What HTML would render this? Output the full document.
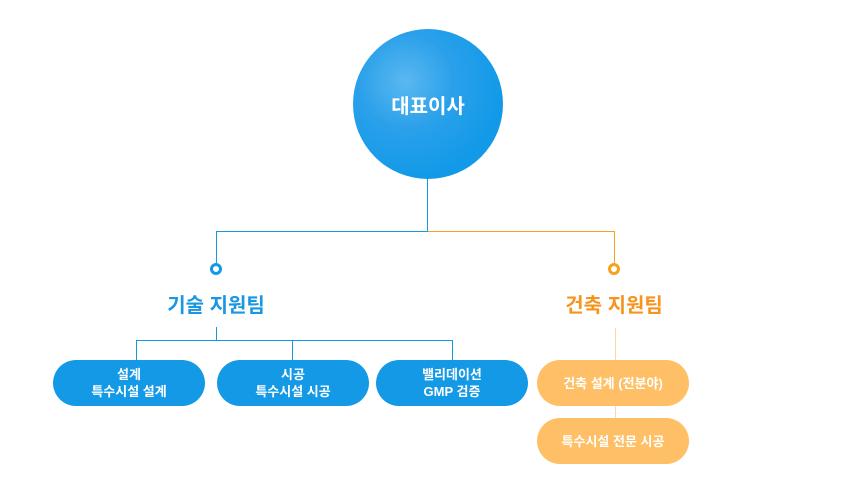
<!DOCTYPE html>
<html><head><meta charset="utf-8"><style>
body{margin:0;width:850px;height:500px;background:#fff;position:relative;overflow:hidden;font-family:"Liberation Sans","Noto Sans CJK KR",sans-serif;}
.a{position:absolute}
.ceo{left:353px;top:29px;width:150px;height:150px;border-radius:50%;background:radial-gradient(circle at 35% 35%,#5ab8f0 0%,#2aa0ea 35%,#129ae8 70%);color:#fff;font-weight:bold;font-size:20px;display:flex;align-items:center;justify-content:center}
.pill{position:absolute;border-radius:23px;color:#fff;font-weight:bold;font-size:13px;line-height:17px;text-align:center;display:flex;align-items:center;justify-content:center}
.b{background:#1399e6}.o{background:#ffbf66}
.dot{position:absolute;width:6px;height:6px;border-radius:50%;background:#fff}
</style></head><body>
<div class="a ceo">대표이사</div>
<div class="a" style="left:427px;top:178px;width:1px;height:54px;background:#1399e6"></div>
<div class="a" style="left:216px;top:231px;width:212px;height:1px;background:#1399e6"></div>
<div class="a" style="left:428px;top:231px;width:187px;height:1px;background:#f7a21b"></div>
<div class="a" style="left:216px;top:231px;width:1px;height:32px;background:#1399e6"></div>
<div class="a" style="left:614px;top:231px;width:1px;height:32px;background:#f7a21b"></div>
<div class="dot" style="left:210px;top:263px;border:3px solid #1399e6"></div>
<div class="dot" style="left:608px;top:263px;border:3px solid #f7a21b"></div>
<div class="a" style="left:116px;top:289px;width:200px;text-align:center;color:#1a97e2;font-weight:bold;font-size:20px">기술 지원팀</div>
<div class="a" style="left:514px;top:289px;width:200px;text-align:center;color:#f7941d;font-weight:bold;font-size:20px">건축 지원팀</div>
<div class="a" style="left:216px;top:327px;width:1px;height:13px;background:#1399e6"></div>
<div class="a" style="left:136px;top:340px;width:317px;height:1px;background:#1399e6"></div>
<div class="a" style="left:136px;top:340px;width:1px;height:20px;background:#1399e6"></div>
<div class="a" style="left:292px;top:340px;width:1px;height:20px;background:#1399e6"></div>
<div class="a" style="left:452px;top:340px;width:1px;height:20px;background:#1399e6"></div>
<div class="a" style="left:615px;top:328px;width:1px;height:95px;background:#fcd9a8"></div>
<div class="pill b" style="left:53px;top:360px;width:152px;height:46px">설계<br>특수시설 설계</div>
<div class="pill b" style="left:217px;top:360px;width:152px;height:46px">시공<br>특수시설 시공</div>
<div class="pill b" style="left:376px;top:360px;width:152px;height:46px">밸리데이션<br>GMP 검증</div>
<div class="pill o" style="left:537px;top:360px;width:152px;height:46px">건축 설계 (전분야)</div>
<div class="pill o" style="left:537px;top:418px;width:152px;height:46px">특수시설 전문 시공</div>
</body></html>
